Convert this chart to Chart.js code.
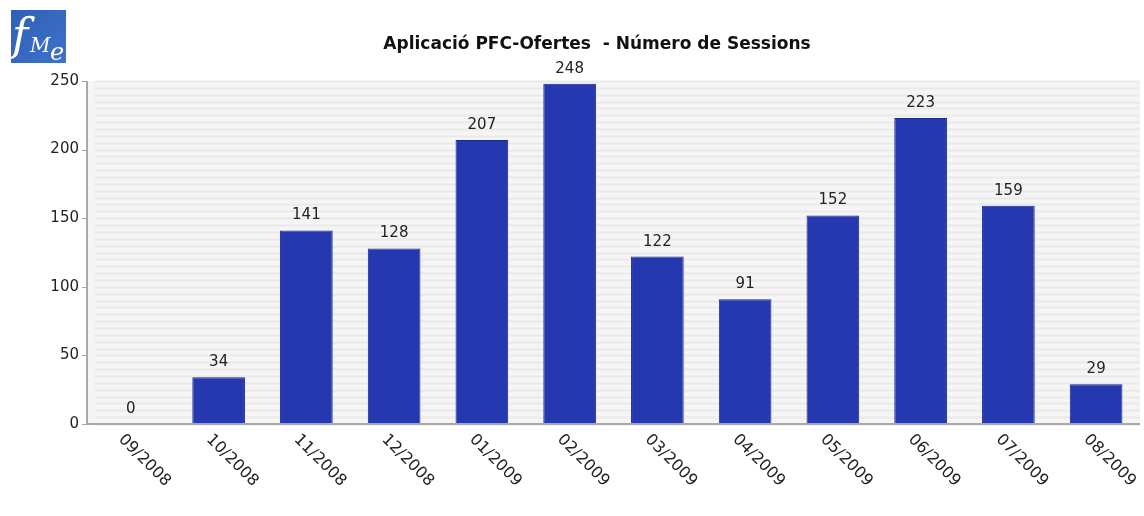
<!DOCTYPE html>
<html>
<head>
<meta charset="utf-8">
<script src="https://cdn.jsdelivr.net/npm/chart.js@4/dist/chart.umd.min.js"></script>
<style>
  html, body { margin: 0; padding: 0; background: #ffffff; }
  #wrap { width: 1144px; height: 516px; position: relative; }
</style>
</head>
<body>
<div id="wrap"><canvas id="c" width="1144" height="516"></canvas></div>
<script>
// Monthly sessions of the PFC-Ofertes application
const months = ['09/2008','10/2008','11/2008','12/2008','01/2009','02/2009','03/2009','04/2009','05/2009','06/2009','07/2009','08/2009'];
const sessions = [0, 34, 141, 128, 207, 248, 122, 91, 152, 223, 159, 29];
const yTicks = [0, 50, 100, 150, 200, 250];
const chartTitle = 'Aplicació PFC-Ofertes  - Número de Sessions';

const FONT = '"DejaVu Sans", "Liberation Sans", sans-serif';

// Striped light-grey plot background, axes lines and header (logo + title)
const decor = {
  id: 'decor',
  beforeDatasetsDraw(chart) {
    const { ctx, chartArea: a, scales: { y } } = chart;
    ctx.save();
    ctx.fillStyle = '#f5f5f5';
    ctx.fillRect(a.left, a.top, a.right - a.left, a.bottom - a.top);
    ctx.strokeStyle = '#eaeaea';
    ctx.lineWidth = 2;
    for (let v = 0; v <= 250; v += 5) {
      const py = Math.round(y.getPixelForValue(v)) + 0.5;
      ctx.beginPath();
      ctx.moveTo(a.left + 8, py);
      ctx.lineTo(a.right, py);
      ctx.stroke();
    }
    ctx.restore();
  },
  afterDraw(chart) {
    const { ctx, chartArea: a, scales: { x, y } } = chart;
    ctx.save();
    // axis lines
    ctx.strokeStyle = '#a8a8a8';
    ctx.lineWidth = 2;
    ctx.beginPath();
    ctx.moveTo(a.left, a.top);
    ctx.lineTo(a.left, a.bottom);
    ctx.lineTo(a.right, a.bottom);
    ctx.stroke();
    // y tick marks
    ctx.lineWidth = 1;
    yTicks.forEach(v => {
      const py = Math.round(y.getPixelForValue(v)) + 0.5;
      ctx.beginPath();
      ctx.moveTo(a.left - 5, py);
      ctx.lineTo(a.left, py);
      ctx.stroke();
    });
    // x tick labels, rotated down to the right
    ctx.fillStyle = '#222';
    ctx.font = '16px ' + FONT;
    ctx.textAlign = 'left';
    ctx.textBaseline = 'middle';
    months.forEach((m, i) => {
      const px = x.getPixelForValue(i);
      ctx.save();
      ctx.translate(px - 10, a.bottom + 13);
      ctx.rotate(Math.PI / 4);
      ctx.fillText(m, 0, 0);
      ctx.restore();
    });
    // title
    ctx.font = 'bold 17px ' + FONT;
    ctx.textAlign = 'center';
    ctx.textBaseline = 'middle';
    ctx.fillStyle = '#111';
    ctx.fillText(chartTitle, 597, 45);
    // logo
    const g = ctx.createLinearGradient(10, 10, 66, 62);
    g.addColorStop(0, '#2f5fb8');
    g.addColorStop(1, '#3f72c8');
    ctx.fillStyle = g;
    ctx.fillRect(11, 10, 55, 53);
    ctx.fillStyle = '#ffffff';
    ctx.textAlign = 'left';
    ctx.textBaseline = 'alphabetic';
    ctx.font = 'italic 44px "DejaVu Serif", serif';
    ctx.fillText('f', 12, 50);
    ctx.font = 'italic 20px "DejaVu Serif", serif';
    ctx.fillText('M', 30, 52);
    ctx.font = 'italic 24px "DejaVu Serif", serif';
    ctx.fillText('e', 50, 60);
    ctx.restore();
  }
};

// value labels above each bar
const valueLabels = {
  id: 'valueLabels',
  afterDatasetsDraw(chart) {
    const { ctx } = chart;
    const meta = chart.getDatasetMeta(0);
    ctx.save();
    ctx.font = '15px ' + FONT;
    ctx.fillStyle = '#222';
    ctx.textAlign = 'center';
    ctx.textBaseline = 'middle';
    meta.data.forEach((bar, i) => {
      ctx.fillText(String(sessions[i]), bar.x, bar.y - 15);
    });
    ctx.restore();
  }
};

new Chart(document.getElementById('c'), {
  type: 'bar',
  data: {
    labels: months,
    datasets: [{
      data: sessions,
      backgroundColor: '#2638b0',
      borderColor: '#1a288c',
      borderWidth: 1,
      barPercentage: 0.6,
      categoryPercentage: 1.0
    }]
  },
  options: {
    responsive: false,
    animation: false,
    layout: { padding: { top: 81, right: 4, left: 0, bottom: 0 } },
    plugins: {
      legend: { display: false },
      title: { display: false },
      tooltip: { enabled: false }
    },
    scales: {
      x: {
        grid: { display: false, drawTicks: false },
        border: { display: false },
        ticks: { display: false },
        afterFit(s) { s.height = 92; }
      },
      y: {
        min: 0,
        max: 250,
        afterBuildTicks(s) { s.ticks = yTicks.map(v => ({ value: v })); },
        grid: { display: false, drawTicks: false },
        border: { display: false },
        ticks: {
          color: '#222',
          font: { family: FONT, size: 15 },
          padding: 8
        },
        afterFit(s) { s.width = 87; }
      }
    }
  },
  plugins: [decor, valueLabels]
});
</script>
</body>
</html>
